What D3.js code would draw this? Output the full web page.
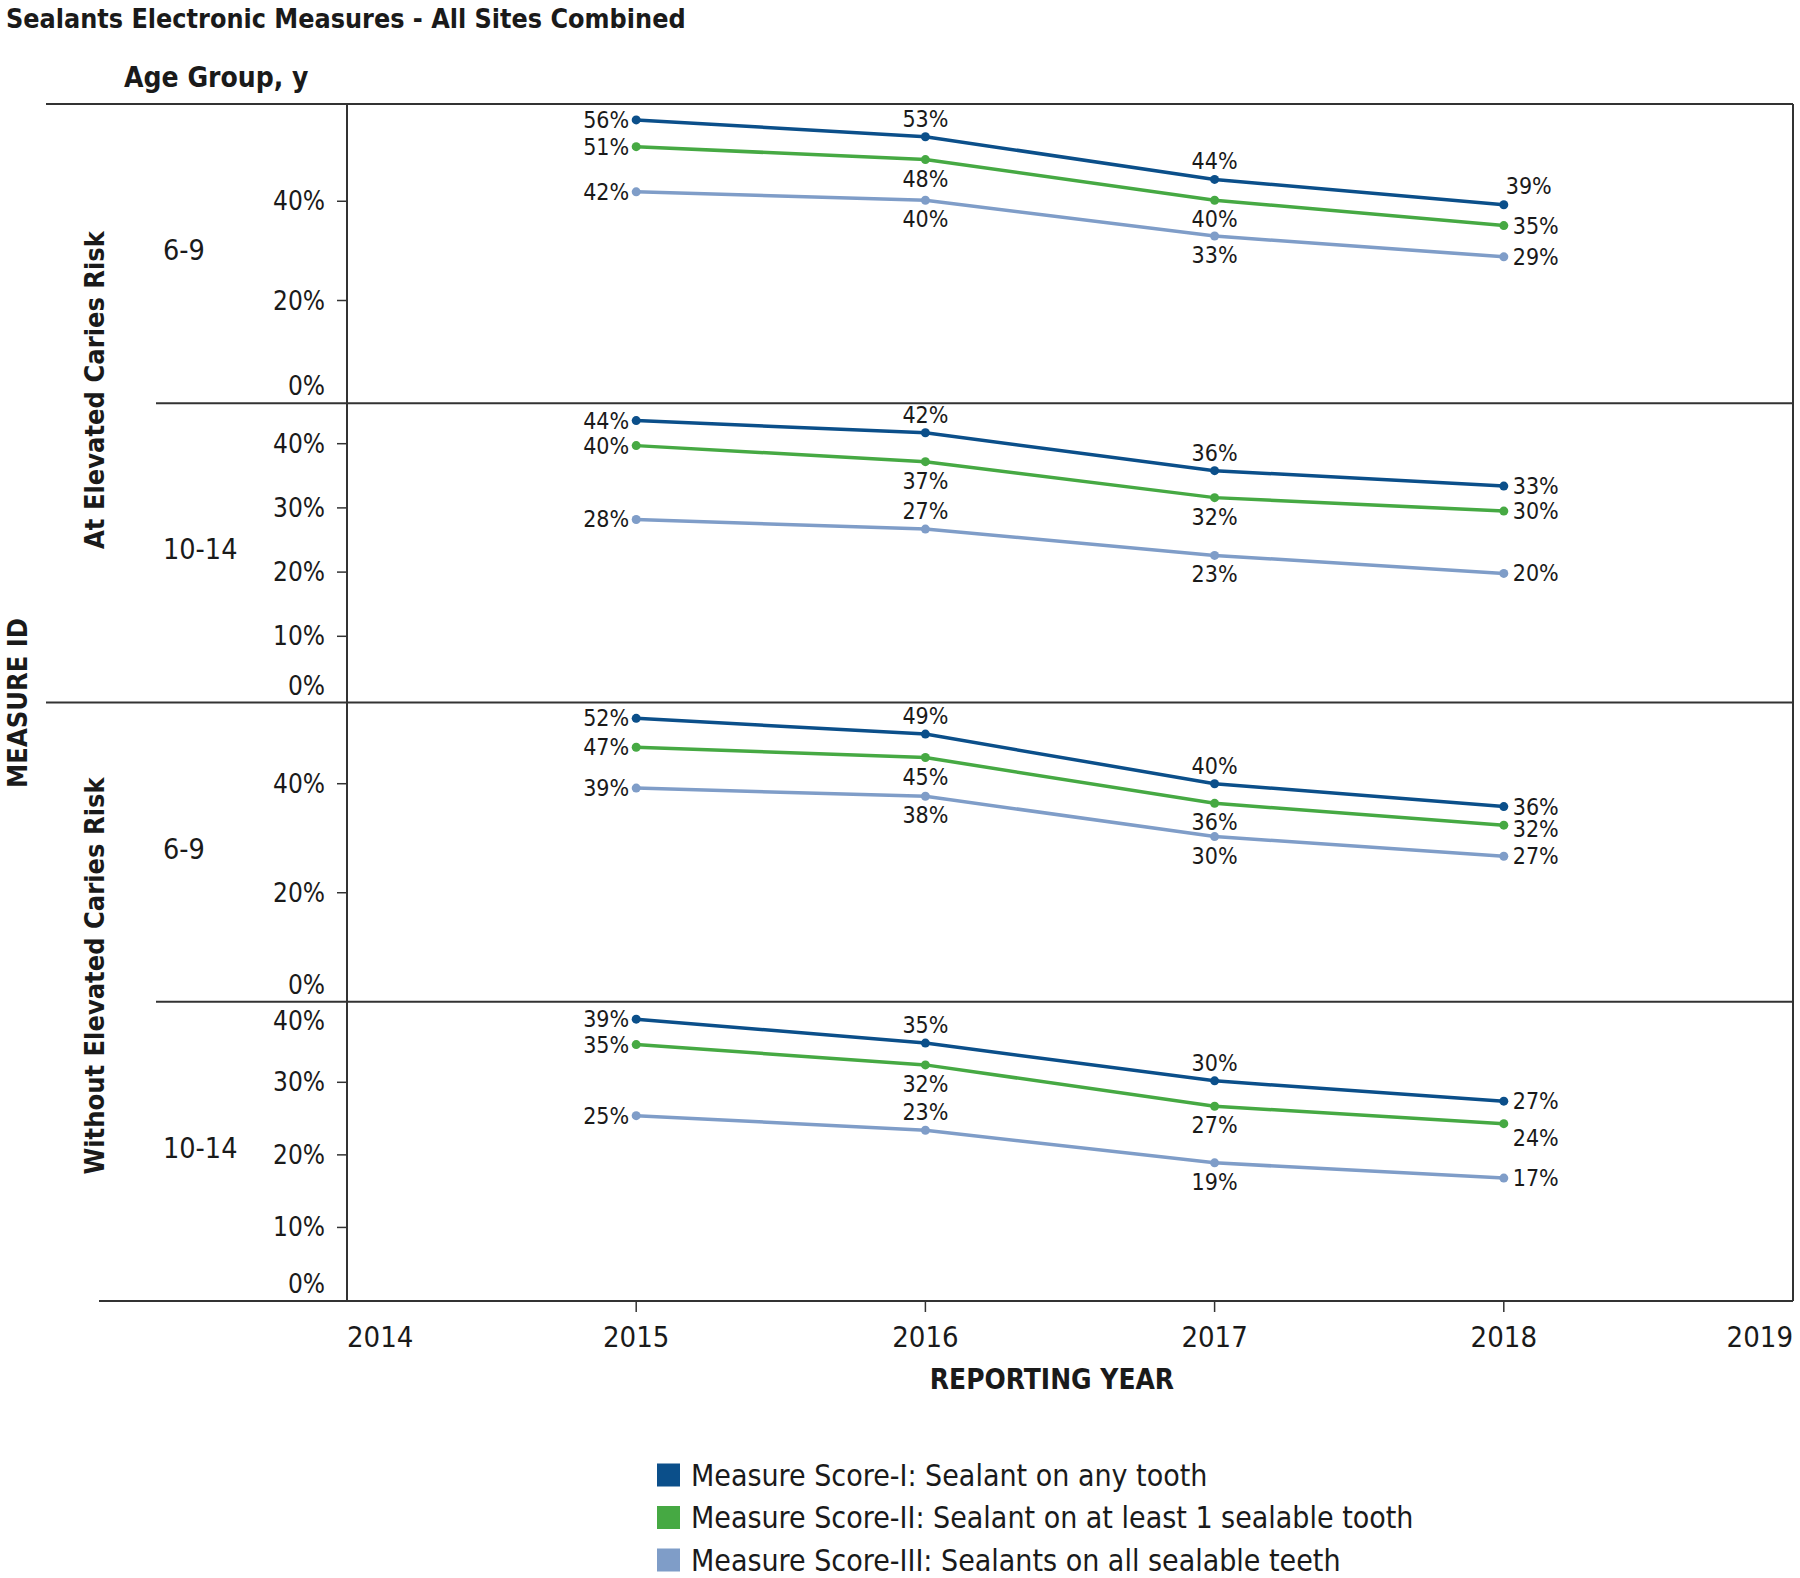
<!DOCTYPE html>
<html>
<head>
<meta charset="utf-8">
<script src="https://cdn.jsdelivr.net/npm/d3@7"></script>
<style>
 body { margin: 0; background: #fff; }
 svg text { font-family: "Liberation Sans Narrow", "DejaVu Sans Condensed", sans-serif; fill: #1a1a1a; }
</style>
</head>
<body>
<div id="chart"></div>
<script>
const years = [2015, 2016, 2017, 2018];
const axisYears = [2014, 2015, 2016, 2017, 2018, 2019];
const seriesNames = [
 "Measure Score-I: Sealant on any tooth",
 "Measure Score-II: Sealant on at least 1 sealable tooth",
 "Measure Score-III: Sealants on all sealable teeth",
];
const riskGroups = ["At Elevated Caries Risk", "Without Elevated Caries Risk"];
const ageGroups = ["6-9", "10-14", "6-9", "10-14"];

// one array per measure score, values by year (%)
const elevated6to9 = [[56.4, 53.0, 44.4, 39.3], [51.0, 48.4, 40.2, 35.1], [41.9, 40.2, 33.0, 28.8]];
const elevated10to14 = [[43.6, 41.7, 35.8, 33.4], [39.7, 37.2, 31.6, 29.5], [28.2, 26.7, 22.6, 19.8]];
const without6to9 = [[52.0, 49.1, 40.0, 35.8], [46.7, 44.8, 36.4, 32.4], [39.2, 37.7, 30.3, 26.7]];
const without10to14 = [[38.7, 35.4, 30.2, 27.4], [35.2, 32.4, 26.7, 24.3], [25.4, 23.4, 18.9, 16.8]];

const yTicks = [[0, 20, 40], [0, 10, 20, 30, 40], [0, 20, 40], [0, 10, 20, 30, 40]];
const yMax = [59.6, 46.3, 54.9, 41.1];

(function () {
 const panels = [elevated6to9, elevated10to14, without6to9, without10to14];
 const colors = ["#0b4f8a", "#46a943", "#7f9dc8"];
 // where each value label sits relative to its point
 const labelPos = [
  [["left", "above", "above", "aboveRight"], ["left", "below", "below", "right"], ["left", "below", "below", "right"]],
  [["left", "above", "above", "right"], ["left", "below", "below", "right"], ["left", "above", "below", "right"]],
  [["left", "above", "above", "right"], ["left", "below", "below", "rightLow"], ["left", "below", "below", "right"]],
  [["left", "above", "above", "right"], ["left", "below", "below", "belowRight"], ["left", "above", "below", "right"]],
 ];
 const zeroLift = [3.5, 2, 0, 1];

 const W = 1800, H = 1578;
 const left = 347, right = 1793, top = 104, bottom = 1301;
 const axisColor = "#333";

 const svg = d3.select("#chart").append("svg")
  .attr("width", W).attr("height", H);

 const x = d3.scaleLinear().domain([2014, 2019]).range([left, right]);
 const band = d3.scaleBand().domain(d3.range(panels.length)).range([top, bottom]);

 svg.append("text")
  .attr("x", 6).attr("y", 28)
  .style("font-size", "26.7px").style("font-weight", "bold")
  .text("Sealants Electronic Measures - All Sites Combined");

 svg.append("text")
  .attr("x", 124).attr("y", 87)
  .style("font-size", "28px").style("font-weight", "bold")
  .text("Age Group, y");

 // frame lines
 const frame = svg.append("g").attr("stroke", axisColor).attr("stroke-width", 2);
 frame.append("line").attr("x1", 46).attr("x2", right).attr("y1", top).attr("y2", top);
 frame.append("line").attr("x1", left).attr("x2", left).attr("y1", top).attr("y2", bottom);
 frame.append("line").attr("x1", right).attr("x2", right).attr("y1", top).attr("y2", bottom);
 frame.append("line").attr("x1", 99).attr("x2", right).attr("y1", bottom).attr("y2", bottom);
 [1, 2, 3].forEach((i) => {
  const yy = band(i);
  frame.append("line")
   .attr("x1", i === 2 ? 46 : 156).attr("x2", right)
   .attr("y1", yy).attr("y2", yy);
 });

 const line = d3.line().x((d) => x(d.year)).y((d) => d.y);

 panels.forEach((panel, p) => {
  const pTop = band(p), pBottom = pTop + band.bandwidth();
  const y = d3.scaleLinear().domain([0, yMax[p]]).range([pBottom - zeroLift[p], pTop]);
  const g = svg.append("g");

  // y axis labels
  yTicks[p].forEach((v) => {
   const ty = y(v);
   const ly = Math.max(pTop + 19, Math.min(pBottom - 17, ty));
   if (v > 0 && ty > pTop + 12) {
    g.append("line").attr("x1", left - 10).attr("x2", left)
     .attr("y1", ty).attr("y2", ty)
     .attr("stroke", axisColor).attr("stroke-width", 1.5);
   }
   g.append("text")
    .attr("x", 325).attr("y", ly)
    .attr("text-anchor", "end").attr("dominant-baseline", "central")
    .style("font-size", "26px")
    .text(v + "%");
  });

  g.append("text")
   .attr("x", 163).attr("y", (pTop + pBottom) / 2 - 3)
   .attr("dominant-baseline", "central")
   .style("font-size", "28.5px")
   .text(ageGroups[p]);

  panel.forEach((vals, s) => {
   const pts = vals.map((v, i) => ({ year: years[i], v: v, y: y(v) }));
   g.append("path").datum(pts)
    .attr("d", line)
    .attr("fill", "none")
    .attr("stroke", colors[s])
    .attr("stroke-width", 3.5);
   g.selectAll(null).data(pts).enter().append("circle")
    .attr("cx", (d) => x(d.year)).attr("cy", (d) => d.y)
    .attr("r", 4.5).attr("fill", colors[s]);
   g.selectAll(null).data(pts).enter().append("text")
    .each(function (d, i) {
     const pos = labelPos[p][s][i];
     let tx = x(d.year), ty = d.y, anchor = "middle";
     if (pos === "left") { tx -= 7; anchor = "end"; }
     if (pos === "right") { tx += 9; anchor = "start"; }
     if (pos === "above") ty -= 18;
     if (pos === "below") ty += 19;
     if (pos === "aboveRight") { ty -= 19; tx += 2; anchor = "start"; }
     if (pos === "belowRight") { ty += 14; tx += 9; anchor = "start"; }
     if (pos === "rightLow") { ty += 4; tx += 9; anchor = "start"; }
     d3.select(this).attr("x", tx).attr("y", ty).attr("text-anchor", anchor);
    })
    .attr("dominant-baseline", "central")
    .style("font-size", "23px")
    .text((d) => Math.round(d.v) + "%");
  });
 });

 // x axis
 const xg = svg.append("g");
 axisYears.forEach((yr, i) => {
  if (i > 0 && i < axisYears.length - 1) {
   xg.append("line").attr("x1", x(yr)).attr("x2", x(yr))
    .attr("y1", bottom).attr("y2", bottom + 11)
    .attr("stroke", axisColor).attr("stroke-width", 1.5);
  }
  const anchor = i === 0 ? "start" : i === axisYears.length - 1 ? "end" : "middle";
  xg.append("text")
   .attr("x", x(yr)).attr("y", 1337)
   .attr("text-anchor", anchor).attr("dominant-baseline", "central")
   .style("font-size", "29px")
   .text(yr);
 });

 svg.append("text")
  .attr("x", 1052).attr("y", 1379)
  .attr("text-anchor", "middle").attr("dominant-baseline", "central")
  .style("font-size", "27.8px").style("font-weight", "bold")
  .text("REPORTING YEAR");

 // vertical titles
 const vt = [
  { text: "MEASURE ID", x: 17, y: 703 },
  { text: riskGroups[0], x: 94, y: 390 },
  { text: riskGroups[1], x: 94, y: 976 },
 ];
 vt.forEach((d) => {
  svg.append("text")
   .attr("transform", `translate(${d.x},${d.y}) rotate(-90)`)
   .attr("text-anchor", "middle").attr("dominant-baseline", "central")
   .style("font-size", "27px").style("font-weight", "bold")
   .text(d.text);
 });

 // legend
 const legend = svg.append("g").attr("transform", "translate(657,1475)");
 seriesNames.forEach((name, i) => {
  const row = legend.append("g").attr("transform", `translate(0,${i * 42.5})`);
  row.append("rect").attr("x", 0).attr("y", -11.5)
   .attr("width", 23).attr("height", 23).attr("fill", colors[i]);
  row.append("text").attr("x", 34).attr("y", 0)
   .attr("dominant-baseline", "central")
   .style("font-size", "30px")
   .text(name);
 });
})();
</script>
</body>
</html>
